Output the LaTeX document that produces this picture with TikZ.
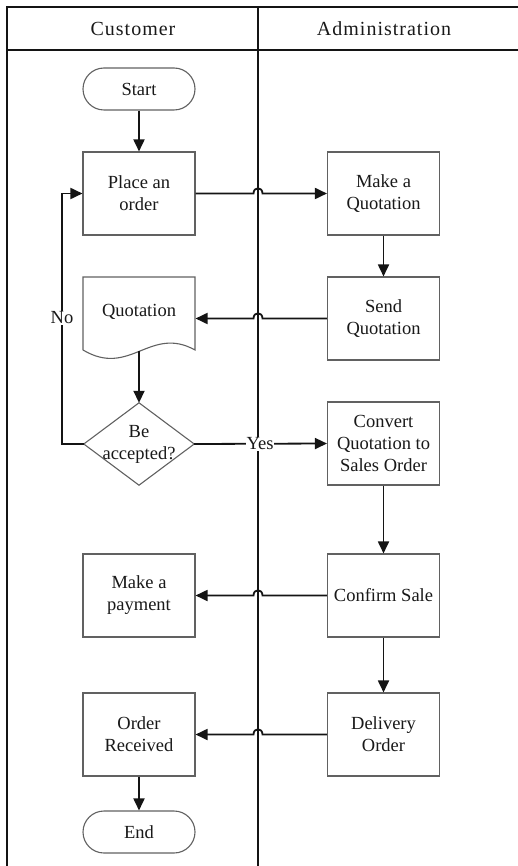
\documentclass[tikz,border=0pt]{standalone}
\usepackage{fontspec}
\setmainfont{Liberation Serif}
\usetikzlibrary{arrows.meta}
\begin{document}
\begin{tikzpicture}[x=1pt,y=-1pt,
  every node/.style={font=\fontsize{18.5}{22}\selectfont, align=center, text=black!90},
  box/.style={draw=black!62, line width=1.1pt, fill=white, minimum width=112pt, minimum height=83pt, inner sep=0pt},
  term/.style={box, minimum height=42pt, rounded corners=21pt},
  shapeline/.style={draw=black!62, line width=1.1pt},
  flow/.style={draw=black!92, line width=1.8pt, -{Triangle[length=12pt,width=11pt]}},
  lane/.style={draw=black!92, line width=1.8pt},
  header/.style={font=\fontsize{20}{24}\selectfont\addfontfeature{LetterSpace=5}},
  tag/.style={fill=white, inner sep=1pt}
]
\useasboundingbox (0,0) rectangle (518,866);

% swimlane frame
\coordinate (tl) at (7,7);
\coordinate (tr) at (518,7);
\coordinate (hl) at (7,50);
\coordinate (hr) at (518,50);
\coordinate (bl) at (7,866);
\coordinate (dt) at (258,7);
\coordinate (db) at (258,866);
\draw[lane] (bl) -- (tl) -- (tr);
\draw[lane] (hl) -- (hr);
\draw[lane] (dt) -- (db);
\node[header] (hcust) at (133,29) {Customer};
\node[header] (hadmin) at (384,29) {Administration};

% customer lane
\node[term] (start) at (139,89) {Start};
\node[box] (place) at (139,193.5) {Place an\\order};
\draw[shapeline] (83,350) -- (83,277) -- (195,277) -- (195,350)
  .. controls (150,325) and (130,378) .. (83,350);
\node[box, draw=none, fill=none, minimum height=73pt] (quot) at (139,312) {Quotation};
\coordinate (quotbot) at (139,351);
\node[minimum width=110pt, minimum height=82pt, inner sep=0pt] (acc) at (139,444) {Be\\accepted?};
\draw[shapeline] (acc.north) -- (acc.east) -- (acc.south) -- (acc.west) -- cycle;
\node[box] (pay) at (139,595.5) {Make a\\payment};
\node[box] (recv) at (139,734.5) {Order\\Received};
\node[term] (end) at (139,832) {End};

% administration lane
\node[box] (makeq) at (383.5,193.5) {Make a\\Quotation};
\node[box] (sendq) at (383.5,318.5) {Send\\Quotation};
\node[box] (conv) at (383.5,443.5) {Convert\\Quotation to\\Sales Order};
\node[box] (conf) at (383.5,595.5) {Confirm Sale};
\node[box] (deliv) at (383.5,734.5) {Delivery\\Order};

% connectors, with a small hop where they cross the lane divider
\draw[flow] (start) -- (place);
\draw[flow] (place.east) -- (253.5,193.5) .. controls (253.5,186.5) and (262.5,186.5) .. (262.5,193.5) -- (makeq.west);
\draw[flow] (makeq) -- (sendq);
\draw[flow] (sendq.west) -- (262.5,318.5) .. controls (262.5,311.5) and (253.5,311.5) .. (253.5,318.5) -- (quot.east |- sendq.west);
\draw[flow] (quotbot) -- (acc.north);
\draw[flow] (acc.west) -- (62,444) -- (62,193.5) -- (place.west);
\node[tag] (no) at (62,318) {No};
\draw[flow] (acc.east) -- (conv.west);
\node[tag] (yes) at (260,444) {Yes};
\draw[flow] (conv) -- (conf);
\draw[flow] (conf.west) -- (262.5,595.5) .. controls (262.5,588.5) and (253.5,588.5) .. (253.5,595.5) -- (pay.east);
\draw[flow] (conf) -- (deliv);
\draw[flow] (deliv.west) -- (262.5,734.5) .. controls (262.5,727.5) and (253.5,727.5) .. (253.5,734.5) -- (recv.east);
\draw[flow] (recv) -- (end);
\end{tikzpicture}
\end{document}
